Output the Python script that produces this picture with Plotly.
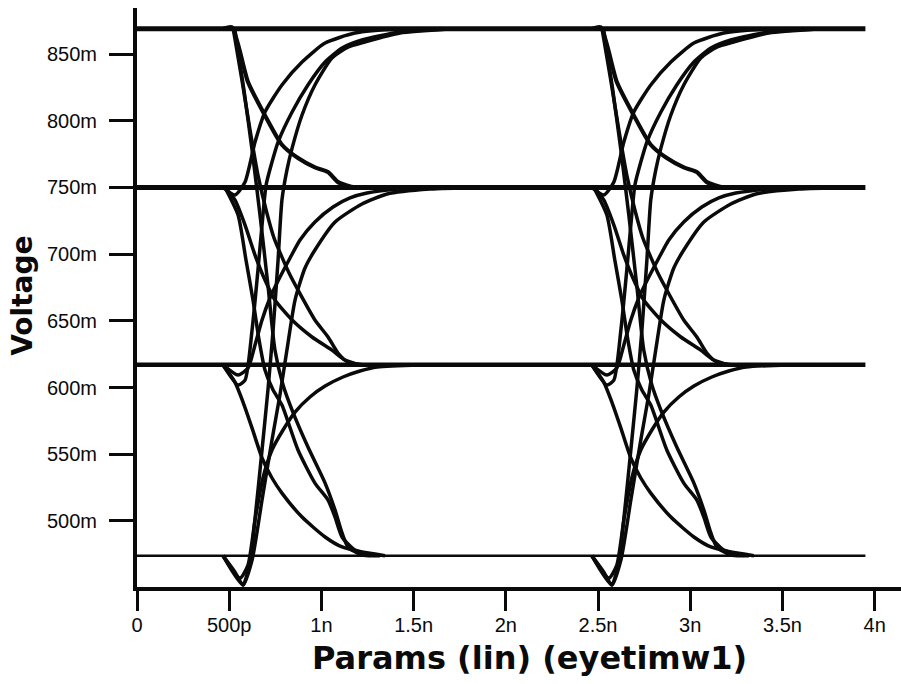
import plotly.graph_objects as go

# ---- data (time in ns, voltage in mV) ----
level_values = [869, 750, 617, 474]
level_span = [0.0, 3.95]
period_offsets = [0.0, 2.0]

# falling transitions
t_f12 = [0.47, 0.515, 0.602, 0.694, 0.786, 0.873, 0.965, 1.036, 1.09, 1.182, 1.30]
v_f12 = [869, 870, 829, 804, 782, 772, 765, 761.5, 754, 750, 750]
t_f13 = [0.521, 0.569, 0.613, 0.656, 0.700, 0.743, 0.786, 0.830, 0.873, 0.965, 1.036, 1.090, 1.144, 1.236]
v_f13 = [869.5, 830.5, 793, 759.3, 733.1, 712.1, 697.8, 684.3, 673.1, 650.6, 637.9, 625.9, 619.1, 617]
t_f14 = [0.531, 0.580, 0.624, 0.667, 0.710, 0.748, 0.792, 0.841, 0.927, 1.020, 1.074, 1.112, 1.144, 1.220, 1.318]
v_f14 = [868, 823, 778, 729.3, 676.8, 628.1, 601.9, 583.1, 555.4, 528.4, 508.2, 491, 480.5, 474.4, 474]
t_f23 = [0.477, 0.531, 0.586, 0.640, 0.694, 0.748, 0.841, 0.949, 1.057, 1.128, 1.209]
v_f23 = [750, 740.6, 721.8, 699.3, 680.6, 665.6, 650.6, 637.9, 628.1, 620.6, 617]
t_f24 = [0.477, 0.548, 0.591, 0.629, 0.662, 0.694, 0.738, 0.786, 0.873, 0.965, 1.036, 1.074, 1.112, 1.182, 1.291]
v_f24 = [750, 729.3, 695.6, 665.6, 635.6, 613.1, 598.1, 586.9, 553.2, 528.4, 515.7, 502.9, 488, 478.2, 474]
t_f34 = [0.466, 0.531, 0.575, 0.624, 0.678, 0.732, 0.786, 0.895, 1.020, 1.112, 1.220, 1.345]
v_f34 = [617, 604.1, 589.1, 569.6, 547.2, 532.2, 520.9, 502.9, 488, 480.5, 476.7, 474]

# rising transitions
t_r21 = [0.466, 0.531, 0.586, 0.640, 0.694, 0.786, 0.895, 1.020, 1.182, 1.426, 1.697]
v_r21 = [750, 744.3, 754.1, 784, 806.5, 826.8, 844, 858.2, 865.7, 868.7, 869]
t_r31 = [0.466, 0.548, 0.586, 0.624, 0.656, 0.678, 0.700, 0.732, 0.765, 0.841, 0.927, 1.020, 1.112, 1.220, 1.426, 1.697]
v_r31 = [617, 601.9, 605.6, 643.1, 688.1, 721.8, 751.8, 769, 784, 806.5, 826.8, 844, 854.5, 860.5, 866.5, 868.7]
t_r41 = [0.466, 0.531, 0.575, 0.613, 0.645, 0.678, 0.710, 0.738, 0.765, 0.786, 0.813, 0.841, 0.895, 0.965, 1.057, 1.144, 1.236, 1.426, 1.697]
v_r41 = [474, 461.7, 452, 469.2, 508.2, 553.2, 598.1, 643.1, 695.6, 740.6, 763.0, 779.5, 804.3, 826.8, 847, 855.2, 859, 865.7, 868.7]
t_r32 = [0.466, 0.548, 0.602, 0.640, 0.678, 0.721, 0.759, 0.830, 0.884, 0.965, 1.063, 1.155, 1.247, 1.426, 1.697]
v_r32 = [617, 609.4, 614.6, 631.9, 650.6, 667.1, 678.3, 697.1, 710.6, 724.1, 735.3, 742.1, 745.8, 748.8, 750]
t_r42 = [0.466, 0.575, 0.624, 0.678, 0.732, 0.775, 0.813, 0.857, 0.911, 0.965, 1.074, 1.220, 1.356, 1.589, 1.860]
v_r42 = [474, 452, 470.7, 515.7, 560.7, 594.4, 628.1, 665.6, 689.6, 703.1, 724.1, 737.6, 745.1, 748.8, 750]
t_r43 = [0.466, 0.559, 0.602, 0.640, 0.683, 0.732, 0.792, 0.857, 0.938, 1.020, 1.117, 1.209, 1.302, 1.535, 1.806]
v_r43 = [474, 457.2, 467, 500.7, 532.2, 553.2, 568.2, 581.6, 592.9, 601.1, 607.9, 612.4, 615.4, 616.9, 617]

x_tick_vals = [0, 0.5, 1, 1.5, 2, 2.5, 3, 3.5, 4]
x_tick_text = ["0", "500p", "1n", "1.5n", "2n", "2.5n", "3n", "3.5n", "4n"]
y_tick_vals = [500, 550, 600, 650, 700, 750, 800, 850]
y_tick_text = ["500m", "550m", "600m", "650m", "700m", "750m", "800m", "850m"]

transitions = [
    (t_f12, v_f12, 4.2), (t_f13, v_f13, 3.5), (t_f14, v_f14, 3.5),
    (t_f23, v_f23, 3.5), (t_f24, v_f24, 3.5), (t_f34, v_f34, 3.5),
    (t_r21, v_r21, 3.5), (t_r31, v_r31, 3.5), (t_r41, v_r41, 3.5),
    (t_r32, v_r32, 3.5), (t_r42, v_r42, 3.5), (t_r43, v_r43, 3.5),
]

INK = "#0a0a0a"
fig = go.Figure()

level_widths = [5, 5, 4.5, 2.5]
for lv, lw in zip(level_values, level_widths):
    fig.add_trace(go.Scatter(x=level_span, y=[lv, lv], mode="lines",
                             line=dict(color=INK, width=lw), hoverinfo="skip"))

for off in period_offsets:
    for tt, vv, lw in transitions:
        fig.add_trace(go.Scatter(x=[t + off for t in tt], y=vv, mode="lines",
                                 line=dict(color=INK, width=lw, shape="spline", smoothing=0.6),
                                 hoverinfo="skip"))

tick_font = dict(family="Liberation Sans, Arial, sans-serif", size=20, color=INK)
title_font = dict(family="DejaVu Sans, sans-serif", size=32, color=INK)

fig.update_layout(
    width=901, height=684,
    margin=dict(l=137, r=0, t=8, b=97),
    paper_bgcolor="white", plot_bgcolor="white",
    showlegend=False,
    xaxis=dict(range=[0, 4.143], tickvals=x_tick_vals, ticktext=x_tick_text,
               showgrid=False, zeroline=False, showline=True, linecolor=INK, linewidth=4,
               ticks="outside", ticklen=20, tickwidth=3, tickcolor=INK,
               tickfont=tick_font, ticklabelstandoff=-3),
    yaxis=dict(range=[450.5, 884.5], tickvals=y_tick_vals, ticktext=y_tick_text,
               showgrid=False, zeroline=False, showline=True, linecolor=INK, linewidth=4,
               ticks="outside", ticklen=24, tickwidth=3, tickcolor=INK,
               tickfont=tick_font, ticklabelstandoff=8),
    annotations=[
        dict(text="<b>Params (lin) (eyetimw1)</b>", xref="paper", yref="paper",
             x=0.514, y=-0.1226, xanchor="center", yanchor="middle",
             showarrow=False, font=title_font),
        dict(text="<b>Voltage</b>", xref="paper", yref="paper",
             x=-0.1495, y=0.5026, xanchor="center", yanchor="middle", textangle=-90,
             showarrow=False, font=dict(family="DejaVu Sans, sans-serif", size=28, color=INK)),
    ],
)

fig.write_html("out.html")
